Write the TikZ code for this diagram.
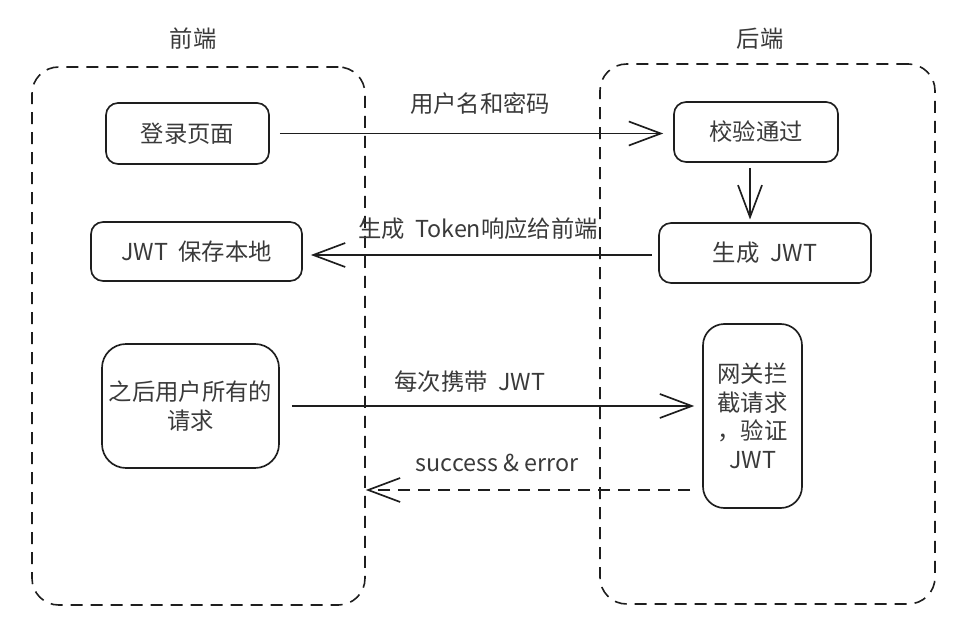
\documentclass[tikz,border=0pt]{standalone}
\usepackage{fontspec}
\setmainfont{Noto Sans CJK SC}
\usetikzlibrary{arrows.meta}
\definecolor{ink}{HTML}{1E1E1E}
\definecolor{txt}{HTML}{3A3A3A}
\tikzset{
  box/.style={draw=ink, line width=1.25pt, rounded corners=9pt, text=txt, align=center, inner sep=0pt,
    font=\fontsize{17.5}{21.5}\selectfont},
  container/.style={draw=ink, line width=1.2pt, dash pattern=on 9pt off 6pt, rounded corners=20pt, inner sep=0pt},
  arr/.style={draw=ink, line width=1.25pt, -{Straight Barb[length=24pt,width=18pt,line width=1.25pt]}},
  darr/.style={arr, dash pattern=on 9pt off 6pt},
  lbl/.style={text=txt, font=\fontsize{17.5}{21}\selectfont, inner sep=0pt},
  title/.style={text=txt, font=\fontsize{17.5}{21}\selectfont, inner sep=0pt}
}
\begin{document}
\begin{tikzpicture}[x=0.75pt,y=-0.75pt]
\useasboundingbox (0,0) rectangle (956,627);
% containers
\node[container, minimum width=249.75pt, minimum height=403.5pt] (front) at (198.5,336) {};
\node[container, minimum width=251.25pt, minimum height=405pt] (back) at (767.5,334) {};
\node[title] (tfront) at (193,39) {前端};
\node[title] (tback) at (760,39) {后端};
% boxes
\node[box, minimum width=122.25pt, minimum height=45.75pt] (login) at (187.5,133.5) {登录页面};
\node[box, minimum width=158.25pt, minimum height=44.25pt] (save) at (196.5,251.5) {JWT\ \ 保存本地};
\node[box, rounded corners=18pt, minimum width=132.75pt, minimum height=93pt] (req) at (190.5,406) {之后用户所有的\\请求};
\node[box, minimum width=123pt, minimum height=45pt] (verify) at (756,132) {校验通过};
\node[box, minimum width=159pt, minimum height=45pt] (gen) at (765,253) {生成\ \ JWT};
\node[box, rounded corners=16pt, minimum width=74.25pt, minimum height=138pt] (gw) at (752.5,416) {网关拦\\截请求\\，验证\\JWT};
% connectors
\draw[arr, shorten <=7.5pt, shorten >=7.5pt] (login.east) -- (login.east -| verify.west);
\draw[arr, shorten <=3.75pt, shorten >=2pt] ([xshift=-4.5pt]verify.south) -- ([xshift=-4.5pt]verify.south |- gen.north);
\draw[arr, shorten <=5pt, shorten >=6pt] ([yshift=-1.5pt]gen.west) -- ([yshift=-1.5pt]gen.west -| save.east);
\draw[arr, shorten <=9pt, shorten >=6pt] (req.east) -- (req.east -| gw.west);
\draw[darr, shorten <=9pt] ([yshift=-55.5pt]gw.west) -- ([yshift=-55.5pt]gw.west -| front.east);
% labels
\node[lbl] (l1) at (480,104) {用户名和密码};
\node[lbl] (l2) at (478,229) {生成\ \ Token响应给前端};
\node[lbl] (l3) at (470,382) {每次携带\ \ JWT};
\node[lbl] (l4) at (497,463) {success \& error};
\end{tikzpicture}
\end{document}
